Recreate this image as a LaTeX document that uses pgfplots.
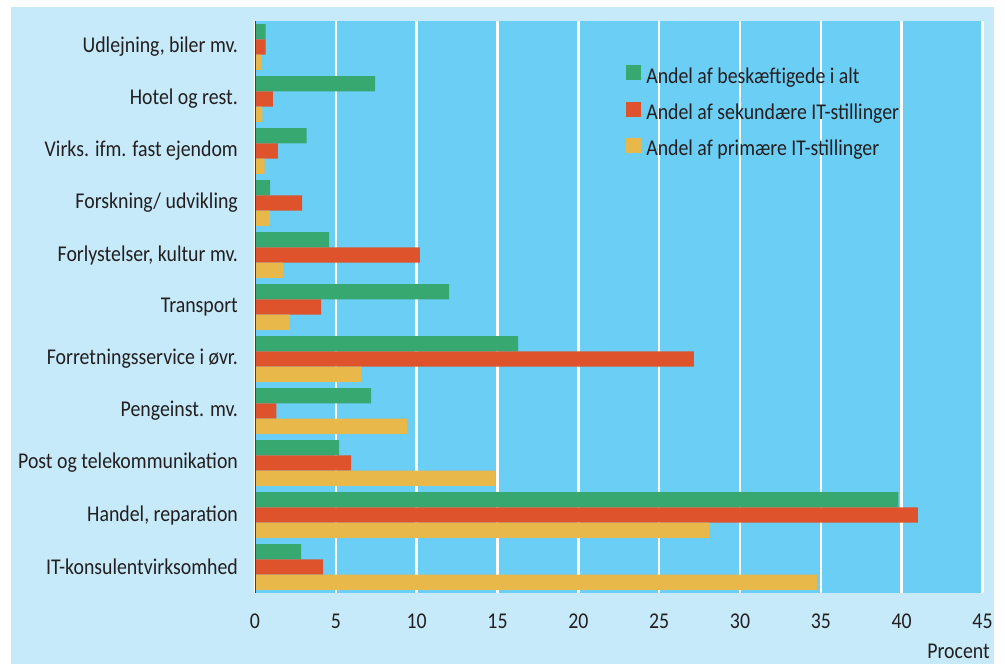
\documentclass[border=0pt]{standalone}
\usepackage{fontspec}
\setmainfont{Carlito}[FakeStretch=0.88]
\usepackage{pgfplots}
\pgfplotsset{compat=1.18}
\usepackage{pgfplotstable}
\definecolor{panel}{HTML}{C6EAF9}
\definecolor{plotblue}{HTML}{6BCEF5}
\definecolor{cgreen}{HTML}{37A970}
\definecolor{cred}{HTML}{DE532B}
\definecolor{cyellow}{HTML}{E8B84A}
\definecolor{textgray}{HTML}{231F20}
\pgfplotstableread{
y green red yellow
10 0.66 0.66 0.41
9 7.43 1.10 0.46
8 3.20 1.41 0.60
7 0.94 2.92 0.92
6 4.59 10.2 1.75
5 12.0 4.09 2.14
4 16.27 27.15 6.57
3 7.19 1.32 9.41
2 5.21 5.95 14.87
1 39.8 41.0 28.1
0 2.86 4.22 34.75
}\datatable
\begin{document}
\fontsize{16.9pt}{20pt}\selectfont
\begin{tikzpicture}
\path[use as bounding box] (0,0) rectangle (753.75pt,498pt);
\fill[white] (0,0) rectangle (753.75pt,498pt);
\fill[panel] (8.25pt,0) rectangle (745.5pt,492.75pt);
\begin{axis}[
  at={(191.25pt,53.25pt)}, anchor=south west,
  scale only axis,
  width=545.625pt, height=429pt,
  xbar, bar width=11.4pt,
  xmin=0, xmax=45, ymin=-0.5, ymax=10.5,
  axis background/.style={fill=plotblue},
  axis line style={draw=none},
  xtick={0,5,...,45},
  ytick={0,...,10},
  yticklabels={IT-konsulentvirksomhed,{Handel, reparation},Post og telekommunikation,Pengeinst. mv.,Forretningsservice i øvr.,Transport,{Forlystelser, kultur mv.},Forskning/ udvikling,Virks. ifm. fast ejendom,Hotel og rest.,{Udlejning, biler mv.}},
  major tick length=0pt,
  xmajorgrids,
  grid style={white, line width=1.8pt},
  /pgf/number format/assume math mode=true,
  tick label style={text=textgray},
  xticklabel style={yshift=-10pt},
  yticklabel style={xshift=-7pt},
  legend style={at={(axis description cs:0.51,0.923)}, anchor=north west, draw=none, fill=none, inner sep=0pt, row sep=9.5pt, text=textgray, nodes={inner sep=0pt, text height=12pt, text depth=4pt}},
  legend cell align=left,
  legend image code/.code={\path (0pt,0pt) -- (15pt,0pt);\fill[#1,draw=none] (0pt,-1.6pt) rectangle (11.25pt,9.65pt);},
]
\addplot[fill=cgreen, draw=none, bar shift=11.4pt] table[x=green, y=y] {\datatable};
\addplot[fill=cred, draw=none, bar shift=0pt] table[x=red, y=y] {\datatable};
\addplot[fill=cyellow, draw=none, bar shift=-11.4pt] table[x=yellow, y=y] {\datatable};
\legend{Andel af beskæftigede i alt, Andel af sekundære IT-stillinger, Andel af primære IT-stillinger}
\draw[textgray!85, line width=1pt] (rel axis cs:0,0) -- (rel axis cs:0,1);
\end{axis}
\node[anchor=base east, inner sep=0pt, text=textgray] at (742.5pt,4pt) {Procent};
\end{tikzpicture}
\end{document}
